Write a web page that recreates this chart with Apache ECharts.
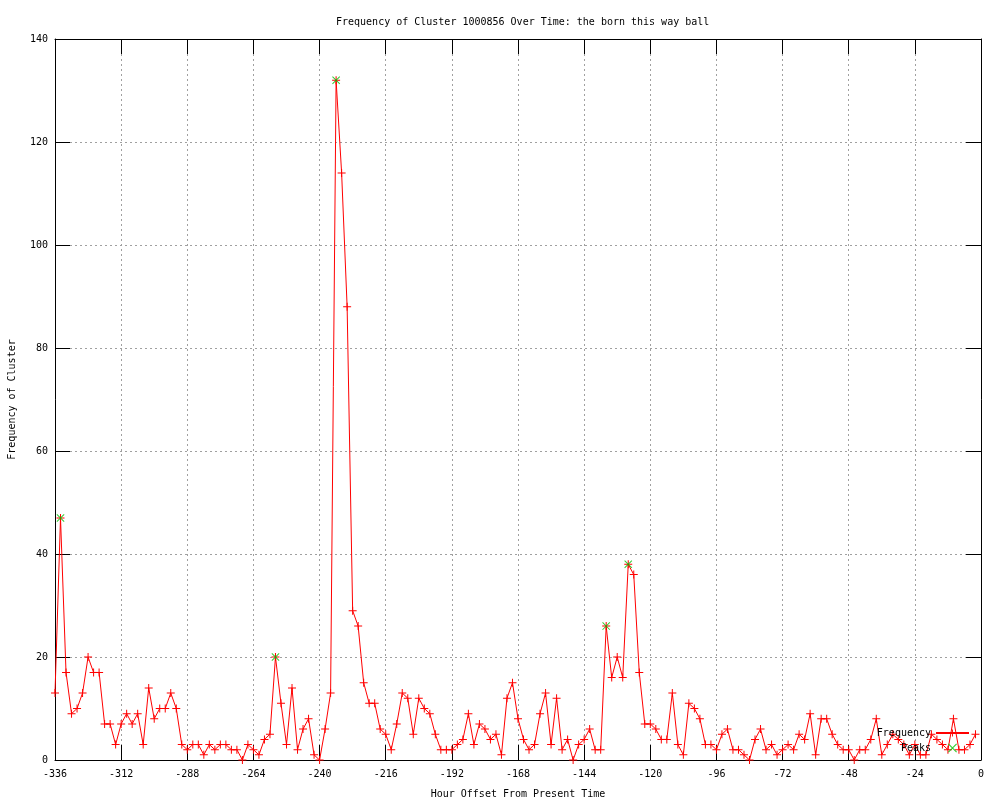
<!DOCTYPE html>
<html>
<head>
<meta charset="utf-8">
<script src="https://cdn.jsdelivr.net/npm/echarts@6/dist/echarts.min.js"></script>
<style>html,body{margin:0;padding:0;background:#fff}#c{width:1000px;height:800px}</style>
</head>
<body>
<div id="c"></div>
<script>
var titleText = 'Frequency of Cluster 1000856 Over Time: the born this way ball';
var xAxisTitle = 'Hour Offset From Present Time';
var yAxisTitle = 'Frequency of Cluster';
var seriesNames = ['Frequency', 'Peaks'];

var hours = [
  -336,-334,-332,-330,-328,-326,-324,-322,-320,-318,-316,-314,-312,-310,-308,-306,-304,-302,-300,-298,
  -296,-294,-292,-290,-288,-286,-284,-282,-280,-278,-276,-274,-272,-270,-268,-266,-264,-262,-260,-258,
  -256,-254,-252,-250,-248,-246,-244,-242,-240,-238,-236,-234,-232,-230,-228,-226,-224,-222,-220,-218,
  -216,-214,-212,-210,-208,-206,-204,-202,-200,-198,-196,-194,-192,-190,-188,-186,-184,-182,-180,-178,
  -176,-174,-172,-170,-168,-166,-164,-162,-160,-158,-156,-154,-152,-150,-148,-146,-144,-142,-140,-138,
  -136,-134,-132,-130,-128,-126,-124,-122,-120,-118,-116,-114,-112,-110,-108,-106,-104,-102,-100,-98,
  -96,-94,-92,-90,-88,-86,-84,-82,-80,-78,-76,-74,-72,-70,-68,-66,-64,-62,-60,-58,
  -56,-54,-52,-50,-48,-46,-44,-42,-40,-38,-36,-34,-32,-30,-28,-26,-24,-22,-20,-18,
  -16,-14,-12,-10,-8,-6,-4,-2
];
var frequency = [
  13,47,17,9,10,13,20,17,17,7,7,3,7,9,7,9,3,14,8,10,
  10,13,10,3,2,3,3,1,3,2,3,3,2,2,0,3,2,1,4,5,
  20,11,3,14,2,6,8,1,0,6,13,132,114,88,29,26,15,11,11,6,
  5,2,7,13,12,5,12,10,9,5,2,2,2,3,4,9,3,7,6,4,
  5,1,12,15,8,4,2,3,9,13,3,12,2,4,0,3,4,6,2,2,
  26,16,20,16,38,36,17,7,7,6,4,4,13,3,1,11,10,8,3,3,
  2,5,6,2,2,1,0,4,6,2,3,1,2,3,2,5,4,9,1,8,
  8,5,3,2,2,0,2,2,4,8,1,3,5,4,3,1,3,1,1,5,
  4,3,2,8,2,2,3,5
];
var peakHours = [-334, -256, -234, -136, -128];
var peakValues = [47, 20, 132, 26, 38];

var xMin = -336, xMax = 0, xStep = 24;
var yMin = 0, yMax = 140, yStep = 20;

var freqData = hours.map(function (h, i) { return [h, frequency[i]]; });
var peakData = peakHours.map(function (h, i) { return [h, peakValues[i]]; });

var plusPath = 'path://M0,3.5H8V4.5H0Z M3.5,0H4.5V8H3.5Z';
var crossPath = 'path://M0,0.7L0.7,0L8,7.3L7.3,8Z M7.3,0L8,0.7L0.7,8L0,7.3Z';
var font = 'DejaVu Sans Mono';

var chart = echarts.init(document.getElementById('c'), null, {renderer: 'canvas'});
var tickStyle = {show: true, inside: true, length: 15, lineStyle: {color: '#000', width: 1}};
var axisLine = {show: true, onZero: false, lineStyle: {color: '#000', width: 1}};

chart.setOption({
  animation: false,
  backgroundColor: '#fff',
  textStyle: {fontFamily: font, fontSize: 10, color: '#000'},
  title: {
    text: titleText,
    left: 331, top: 12,
    textStyle: {fontFamily: font, fontSize: 10, fontWeight: 'normal', color: '#000'}
  },
  grid: {left: 55, right: 19, top: 39, bottom: 40, containLabel: false, outerBoundsMode: 'none'},
  legend: {
    orient: 'vertical',
    align: 'right',
    right: 30,
    top: 728,
    padding: 0,
    itemWidth: 33,
    itemHeight: 9,
    itemGap: 5,
    textStyle: {fontFamily: font, fontSize: 10, color: '#000'},
    data: [seriesNames[0], seriesNames[1]]
  },
  xAxis: [{
    type: 'value', min: xMin, max: xMax, interval: xStep, position: 'bottom',
    name: xAxisTitle, nameLocation: 'middle', nameGap: 29,
    nameTextStyle: {fontFamily: font, fontSize: 10, color: '#000'},
    axisLine: axisLine, axisTick: tickStyle,
    axisLabel: {show: true, margin: 9, fontFamily: font, fontSize: 10, color: '#000'},
    splitLine: {show: true, lineStyle: {color: '#a0a0a0', width: 1, type: [2, 3]}}
  }, {
    type: 'value', min: xMin, max: xMax, interval: xStep, position: 'top',
    axisLine: axisLine, axisTick: tickStyle, axisLabel: {show: false}, splitLine: {show: false}
  }],
  yAxis: [{
    type: 'value', min: yMin, max: yMax, interval: yStep, position: 'left',
    name: yAxisTitle, nameLocation: 'middle', nameGap: 38, nameRotate: 90,
    nameTextStyle: {fontFamily: font, fontSize: 10, color: '#000'},
    axisLine: axisLine, axisTick: tickStyle,
    axisLabel: {show: true, margin: 7, fontFamily: font, fontSize: 10, color: '#000'},
    splitLine: {show: true, lineStyle: {color: '#a0a0a0', width: 1, type: [2, 3]}}
  }, {
    type: 'value', min: yMin, max: yMax, interval: yStep, position: 'right',
    axisLine: axisLine, axisTick: tickStyle, axisLabel: {show: false}, splitLine: {show: false}
  }],
  series: [{
    name: seriesNames[0],
    type: 'line',
    xAxisIndex: 0, yAxisIndex: 0,
    data: freqData,
    symbol: plusPath,
    symbolSize: 8,
    showSymbol: true,
    showAllSymbol: true,
    lineStyle: {color: '#ff0000', width: 1},
    itemStyle: {color: '#ff0000'},
    emphasis: {disabled: true},
    z: 3
  }, {
    name: seriesNames[1],
    type: 'scatter',
    xAxisIndex: 0, yAxisIndex: 0,
    data: peakData,
    symbol: crossPath,
    symbolSize: 8,
    itemStyle: {color: '#00c000'},
    emphasis: {disabled: true},
    z: 4
  }]
});
</script>
</body>
</html>
